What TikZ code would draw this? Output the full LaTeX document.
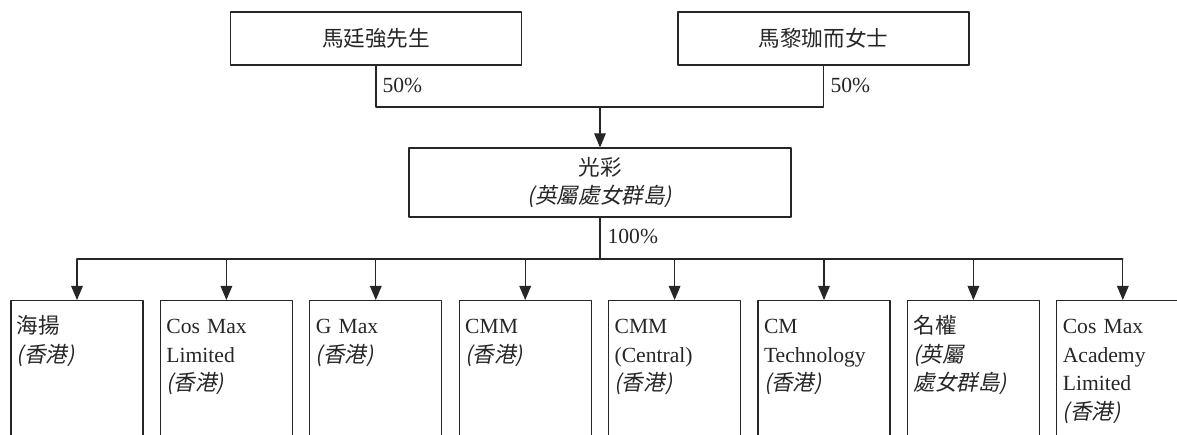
\documentclass[tikz,border=0pt]{standalone}
\usepackage{fontspec}
\setmainfont{Liberation Serif}
\newfontfamily\cjk{Noto Sans CJK TC}
\newfontfamily\cjkit[FakeSlant=0.2]{Noto Sans CJK TC}
\usetikzlibrary{arrows}
\newcommand\chartfont{\fontsize{10.8pt}{14.25pt}\selectfont}

\tikzset{
  owner/.style={draw, minimum width=145.5pt, minimum height=26.5pt, inner sep=0pt, font=\chartfont\cjk},
  holdco/.style={draw, minimum width=191pt, minimum height=34.5pt, inner sep=0pt, align=center, font=\chartfont},
  subco/.style={draw, anchor=north, text width=60pt, inner xsep=3pt, inner ysep=3pt,
    text height=13.5pt, text depth=80pt, align=left, font=\chartfont},
  pct/.style={anchor=base west, inner sep=0pt, font=\chartfont}
}

\begin{document}
\begin{tikzpicture}[line cap=round,line join=round,>=triangle 45,x=0.5pt,y=-0.5pt,line width=0.6pt,color=black!85]
    \useasboundingbox (0,0) rectangle (1177,434);
    \clip (0,0) rectangle (1177,434);
    % shareholders
    \node[owner] (mtk) at (376,38.5) {馬廷強先生};
    \node[owner] (mlk) at (823.5,38.5) {馬黎珈而女士};
    \coordinate (top) at (600,107);
    \draw (mtk.south) |- (top);
    \draw (mlk.south) |- (top);
    \node[pct] (p1) at (382,92) {50\%};
    \node[pct] (p2) at (830,92) {50\%};
    % holding company
    \node[holdco] (gc) at (600,182.5) {{\cjk 光彩}\\{\cjkit (英屬處女群島)}};
    \draw[->] (top) -- (gc.north);
    \coordinate (bus) at (600,259);
    \draw (gc.south) -- (bus);
    \node[pct] (p3) at (607,243) {100\%};
    % subsidiaries
    \node[subco] (s1) at (77,300) {{\cjk 海揚}\\{\cjkit (香港)}};
    \node[subco] (s2) at (226.4,300) {Cos Max\\Limited\\{\cjkit (香港)}};
    \node[subco] (s3) at (375.8,300) {G Max\\{\cjkit (香港)}};
    \node[subco] (s4) at (525.2,300) {CMM\\{\cjkit (香港)}};
    \node[subco] (s5) at (674.6,300) {CMM\\(Central)\\{\cjkit (香港)}};
    \node[subco] (s6) at (824,300) {CM\\Technology\\{\cjkit (香港)}};
    \node[subco] (s7) at (973.4,300) {{\cjk 名權}\\{\cjkit (英屬}\\{\cjkit 處女群島)}};
    \node[subco] (s8) at (1122.8,300) {Cos Max\\Academy\\Limited\\{\cjkit (香港)}};
    \draw (s1.north |- bus) -- (s8.north |- bus);
    \foreach \i in {1,2,...,8}
    \draw[->] (s\i.north |- bus) -- (s\i.north);
\end{tikzpicture}
\end{document}
